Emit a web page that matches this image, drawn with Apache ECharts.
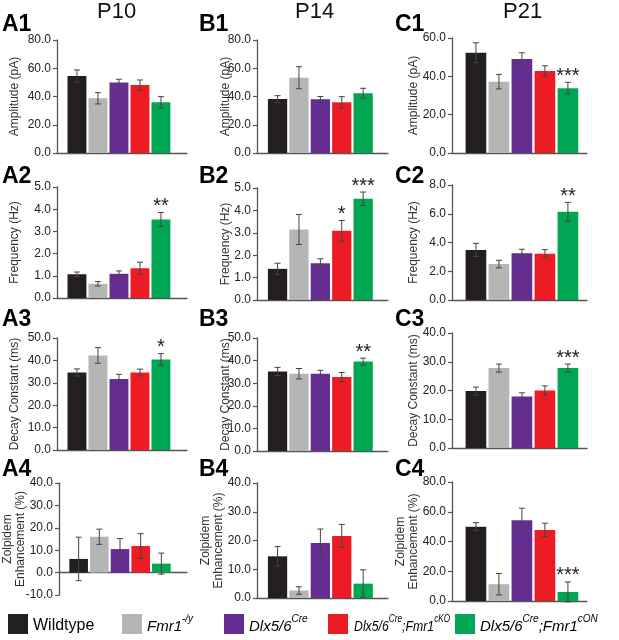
<!DOCTYPE html>
<html>
<head>
<meta charset="utf-8">
<script src="https://cdn.jsdelivr.net/npm/echarts@6/dist/echarts.min.js"></script>
<style>
html,body{margin:0;padding:0;background:#fff;}
#chart{width:619px;height:640px;}
</style>
</head>
<body>
<div id="chart"></div>
<script>
// ---- data ----
const groups = ['Wildtype', 'Fmr1-/y', 'Dlx5/6Cre', 'Dlx5/6Cre;Fmr1cKO', 'Dlx5/6Cre;Fmr1cON'];
const groupColors = ['#231f20', '#b5b5b5', '#662d91', '#ed1c24', '#00a651'];

const panelNames = ['A1','B1','C1','A2','B2','C2','A3','B3','C3','A4','B4','C4'];
const columnTitles = ['P10', 'P14', 'P21'];
const rowAxisNames = ['Amplitude (pA)', 'Frequency (Hz)', 'Decay Constant (ms)', 'Zolpidem\nEnhancement (%)'];

// Amplitude (pA)
const A1_mean = [54.5, 38.7, 50.0, 48.1, 35.9];
const A1_err  = [4.3, 4.0, 2.2, 3.6, 4.0];
const B1_mean = [38.2, 53.3, 38.0, 35.9, 42.3];
const B1_err  = [2.4, 7.8, 2.0, 4.0, 3.5];
const C1_mean = [52.3, 37.2, 49.0, 42.8, 33.8];
const C1_err  = [5.2, 3.8, 3.3, 2.7, 3.1];
// Frequency (Hz)
const A2_mean = [1.07, 0.64, 1.09, 1.34, 3.54];
const A2_err  = [0.10, 0.10, 0.13, 0.27, 0.31];
const B2_mean = [1.39, 3.15, 1.64, 3.09, 4.52];
const B2_err  = [0.25, 0.67, 0.20, 0.46, 0.30];
const C2_mean = [3.48, 2.50, 3.25, 3.22, 6.14];
const C2_err  = [0.46, 0.26, 0.28, 0.28, 0.65];
// Decay constant (ms)
const A3_mean = [34.6, 42.2, 31.7, 34.6, 40.4];
const A3_err  = [1.6, 3.5, 2.1, 1.5, 2.6];
const B3_mean = [35.2, 34.2, 34.2, 32.7, 39.6];
const B3_err  = [1.8, 2.3, 1.5, 2.0, 1.5];
const C3_mean = [19.8, 27.8, 17.9, 20.0, 27.8];
const C3_err  = [1.4, 1.4, 1.3, 1.6, 1.4];
// Zolpidem enhancement (%)
const A4_mean = [6.1, 16.0, 10.5, 11.9, 4.0];
const A4_err  = [9.7, 3.4, 4.7, 5.5, 4.7];
const B4_mean = [14.5, 2.6, 19.1, 21.6, 5.0];
const B4_err  = [3.4, 1.3, 4.9, 4.0, 4.8];
const C4_mean = [50.0, 11.3, 54.3, 47.8, 6.1];
const C4_err  = [2.7, 7.2, 8.1, 4.5, 6.7];

// significance marks: [panel, group, text]
const stars = [
  ['C1', 4, '***'],
  ['A2', 4, '**'], ['B2', 3, '*'], ['B2', 4, '***'], ['C2', 4, '**'],
  ['A3', 4, '*'], ['B3', 4, '**'], ['C3', 4, '***'],
  ['C4', 4, '***']
];

// y axis ticks per panel
const yMin  = [0, 0, 0,   0, 0, 0,   0, 0, 0,   -10, 0, 0];
const yMax  = [80, 80, 60, 5, 5, 8,  50, 50, 40, 40, 40, 80];
const yStep = [20, 20, 20, 1, 1, 2,  10, 10, 10, 10, 10, 20];

const means = [A1_mean,B1_mean,C1_mean,A2_mean,B2_mean,C2_mean,A3_mean,B3_mean,C3_mean,A4_mean,B4_mean,C4_mean];
const errs  = [A1_err,B1_err,C1_err,A2_err,B2_err,C2_err,A3_err,B3_err,C3_err,A4_err,B4_err,C4_err];

// ---- layout ----
const FONT = '"Liberation Sans", Arial, Helvetica, sans-serif';
const colLayout = [
  {left: 57,  right: 187, xmin: -0.95, xmax: 5.24, nameGap: 36, labelX: 2},
  {left: 257, right: 388, xmin: -0.96, xmax: 5.16, nameGap: 25, labelX: 199},
  {left: 452, right: 587, xmin: -1.04, xmax: 4.83, nameGap: 32, labelX: 395}
];
const rowTopBottom = [
  [[40,153],[40,153],[38,153]],
  [[187,298],[188,300],[185,300]],
  [[338,450],[338,451],[333,448]],
  [[483,595],[483,598],[482,601]]
];
const rowLabelTop = [13, 165, 308, 458];
const colTitleX = [97, 295, 503];
const legendLeft = [8, 122, 224, 328, 455];

const grids = [], xAxes = [], yAxes = [], series = [], graphics = [];

for (let p = 0; p < 12; p++) {
  const r = Math.floor(p / 3), c = p % 3;
  const cl = colLayout[c];
  const [t, b] = rowTopBottom[r][c];
  grids.push({left: cl.left, top: t, width: cl.right - cl.left, height: b - t, containLabel: false});
  xAxes.push({
    type: 'value', gridIndex: p, min: cl.xmin, max: cl.xmax,
    axisLine: {show: true, onZero: true, lineStyle: {color: '#555', width: 1.3}},
    axisTick: {show: false}, axisLabel: {show: false}, splitLine: {show: false}
  });
  const twoLine = r === 3;
  yAxes.push({
    type: 'value', gridIndex: p, min: yMin[p], max: yMax[p], interval: yStep[p],
    name: rowAxisNames[r], nameLocation: 'middle',
    nameMoveOverlap: false,
    nameGap: twoLine ? 32 : cl.nameGap,
    nameTextStyle: {fontSize: 12, color: '#333', fontFamily: FONT, lineHeight: 13},
    axisLine: {show: true, onZero: false, lineStyle: {color: '#555', width: 1.3}},
    axisTick: {show: true, length: 4, lineStyle: {color: '#555', width: 1.2}},
    axisLabel: {fontSize: 12, color: '#222', fontFamily: FONT, margin: 6,
      formatter: v => Number(v).toFixed(1)},
    splitLine: {show: false}
  });
  for (let k = 0; k < 5; k++) {
    const st = stars.find(s => s[0] === panelNames[p] && s[1] === k);
    const starText = st ? st[2] : null;
    const color = groupColors[k];
    series.push({
      type: 'custom', name: groups[k], xAxisIndex: p, yAxisIndex: p,
      itemStyle: {color: color},
      encode: {x: 0, y: 1},
      data: [[k, means[p][k], errs[p][k]]],
      silent: true,
      renderItem: function (params, api) {
        const x = api.value(0), m = api.value(1), e = api.value(2);
        const base = api.coord([x, 0]);
        const top = api.coord([x, m]);
        const w = api.size([0.9, 0])[0];
        const hi = api.coord([x, m + e]);
        const lo = api.coord([x, m - e]);
        const cap = 3;
        const children = [
          {type: 'rect', shape: {x: base[0] - w / 2, y: top[1], width: w, height: base[1] - top[1]},
           style: {fill: color}},
          {type: 'line', shape: {x1: hi[0], y1: hi[1], x2: lo[0], y2: lo[1]}, style: {stroke: '#444', lineWidth: 1}},
          {type: 'line', shape: {x1: hi[0] - cap, y1: hi[1], x2: hi[0] + cap, y2: hi[1]}, style: {stroke: '#444', lineWidth: 1}},
          {type: 'line', shape: {x1: lo[0] - cap, y1: lo[1], x2: lo[0] + cap, y2: lo[1]}, style: {stroke: '#444', lineWidth: 1}}
        ];
        if (starText) {
          children.push({type: 'text', x: hi[0], y: hi[1] - 6,
            style: {text: starText, font: '20px ' + FONT, fill: '#222', align: 'center', verticalAlign: 'middle'}});
        }
        return {type: 'group', children: children};
      }
    });
  }
  graphics.push({type: 'text', left: cl.labelX, top: rowLabelTop[r],
    style: {text: panelNames[p], font: 'bold 23px ' + FONT, fill: '#000'}});
}

for (let c = 0; c < 3; c++) {
  graphics.push({type: 'text', left: colTitleX[c], top: 1,
    style: {text: columnTitles[c], font: '22px ' + FONT, fill: '#111'}});
}

const rich = {
  n: {fontSize: 16, color: '#000', fontFamily: FONT, lineHeight: 20, verticalAlign: 'bottom'},
  i: {fontSize: 15, color: '#000', fontFamily: FONT, fontStyle: 'italic', lineHeight: 20, verticalAlign: 'bottom'},
  s: {fontSize: 10, color: '#000', fontFamily: FONT, fontStyle: 'italic', lineHeight: 10, verticalAlign: 'top'}
};
const legendText = {
  'Wildtype': '{n|Wildtype}',
  'Fmr1-/y': '{i|Fmr1}{s|-/y}',
  'Dlx5/6Cre': '{i|Dlx5/6}{s|Cre}',
  'Dlx5/6Cre;Fmr1cKO': '',
  'Dlx5/6Cre;Fmr1cON': '{i|Dlx5/6}{s|Cre}{i|;Fmr1}{s|cON}'
};
const legends = groups.map((g, i) => ({
  data: [g], left: legendLeft[i], top: 614, padding: 0,
  itemWidth: 20, itemHeight: 20, icon: 'rect', selectedMode: false,
  formatter: name => legendText[name],
  textStyle: {fontSize: 16, color: '#000', fontFamily: FONT, rich: rich}
}));
// condensed label for the crowded cKO entry
graphics.push({type: 'text', x: 354, y: 614, scaleX: 0.82, scaleY: 1, originX: 0, originY: 0,
  style: {text: '{i|Dlx5/6}{s|Cre}{i|;Fmr1}{s|cKO}', rich: rich, fill: '#000', verticalAlign: 'top', align: 'left'}});

const chart = echarts.init(document.getElementById('chart'), null, {renderer: 'canvas'});
chart.setOption({
  animation: false,
  backgroundColor: '#fff',
  textStyle: {fontFamily: FONT},
  grid: grids, xAxis: xAxes, yAxis: yAxes, series: series,
  legend: legends, graphic: graphics
});
</script>
</body>
</html>
